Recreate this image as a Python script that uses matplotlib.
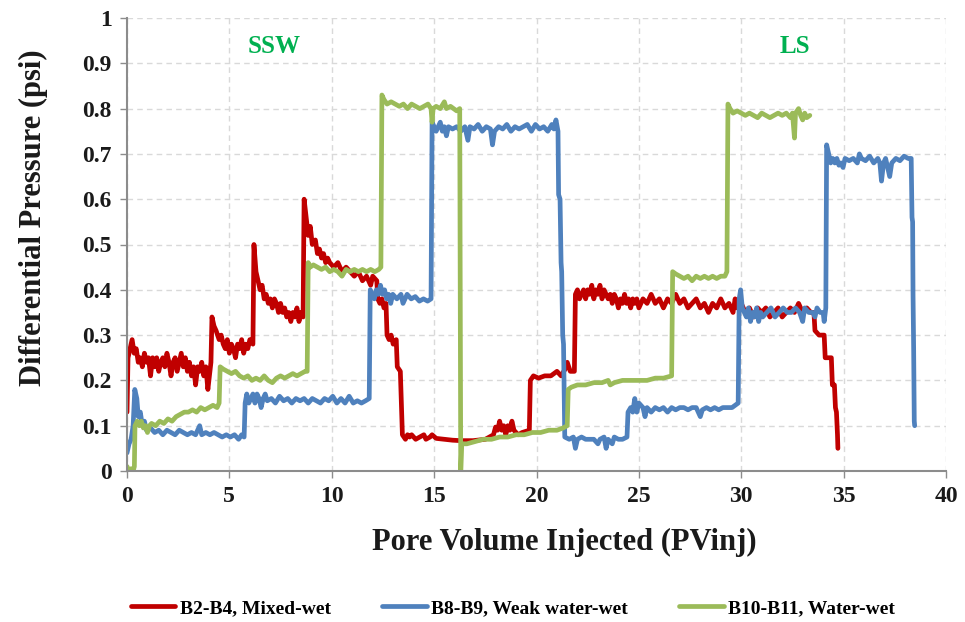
import matplotlib
matplotlib.use('Agg')
import matplotlib.pyplot as plt

plt.rcParams['font.family'] = ['Liberation Serif', 'DejaVu Serif']
plt.rcParams['font.weight'] = 'bold'

# B2-B4, Mixed-wet  (x = PV injected, y = dP in psi)
red_pts = [
    (0.0, 0.13), (0.05, 0.25), (0.15, 0.27), (0.25, 0.29), (0.35, 0.26), (0.45, 0.27), (0.55, 0.24),
    (0.65, 0.25), (0.75, 0.23), (0.85, 0.26), (0.95, 0.24), (1.05, 0.25), (1.15, 0.21), (1.25, 0.25),
    (1.35, 0.23), (1.45, 0.25), (1.55, 0.22), (1.65, 0.24), (1.75, 0.25), (1.85, 0.23), (1.95, 0.26),
    (2.05, 0.24), (2.15, 0.21), (2.25, 0.24), (2.35, 0.25), (2.45, 0.22), (2.55, 0.24), (2.65, 0.26),
    (2.75, 0.23), (2.85, 0.25), (2.95, 0.22), (3.05, 0.24), (3.15, 0.21), (3.25, 0.23), (3.35, 0.19),
    (3.45, 0.23), (3.55, 0.22), (3.65, 0.24), (3.75, 0.21), (3.85, 0.23), (3.95, 0.18), (4.05, 0.22),
    (4.1, 0.24), (4.15, 0.34), (4.25, 0.32), (4.35, 0.31), (4.5, 0.29), (4.6, 0.30), (4.7, 0.28),
    (4.8, 0.27), (4.9, 0.29), (5.0, 0.26), (5.1, 0.28), (5.2, 0.27), (5.3, 0.25), (5.4, 0.28),
    (5.5, 0.27), (5.6, 0.29), (5.7, 0.26), (5.8, 0.28), (5.9, 0.27), (6.0, 0.29), (6.15, 0.28),
    (6.2, 0.50), (6.3, 0.44), (6.4, 0.42), (6.5, 0.40), (6.6, 0.41), (6.7, 0.38), (6.8, 0.39),
    (6.9, 0.37), (7.0, 0.38), (7.1, 0.36), (7.2, 0.38), (7.3, 0.37), (7.4, 0.35), (7.5, 0.37),
    (7.6, 0.35), (7.7, 0.36), (7.8, 0.34), (7.9, 0.35), (8.0, 0.33), (8.1, 0.35), (8.2, 0.34),
    (8.3, 0.36), (8.4, 0.33), (8.5, 0.35), (8.6, 0.34), (8.65, 0.60), (8.75, 0.56), (8.85, 0.52),
    (8.95, 0.54), (9.05, 0.50), (9.2, 0.51), (9.3, 0.48), (9.4, 0.49), (9.5, 0.47), (9.6, 0.48),
    (9.7, 0.46), (9.8, 0.47), (9.9, 0.46), (10.1, 0.45), (10.3, 0.46), (10.5, 0.44), (10.7, 0.45),
    (10.9, 0.44), (11.1, 0.43), (11.3, 0.44), (11.5, 0.42), (11.7, 0.43), (11.9, 0.41), (12.0, 0.43),
    (12.2, 0.42), (12.25, 0.38), (12.35, 0.37), (12.45, 0.38), (12.55, 0.36), (12.65, 0.37),
    (12.7, 0.30), (12.8, 0.29), (12.9, 0.30), (13.0, 0.28), (13.15, 0.29), (13.2, 0.23),
    (13.35, 0.22), (13.45, 0.08), (13.6, 0.07), (13.7, 0.08), (13.8, 0.075), (13.9, 0.08),
    (14.1, 0.07), (14.3, 0.075), (14.5, 0.08), (14.6, 0.07), (14.8, 0.075), (14.9, 0.08),
    (15.1, 0.072), (15.5, 0.070), (15.9, 0.068), (16.3, 0.067), (16.9, 0.067), (17.5, 0.07),
    (17.9, 0.08), (18.0, 0.097), (18.1, 0.09), (18.2, 0.11), (18.3, 0.09), (18.4, 0.10),
    (18.5, 0.08), (18.6, 0.10), (18.7, 0.09), (18.8, 0.11), (18.9, 0.09), (19.1, 0.08),
    (19.3, 0.085), (19.65, 0.09), (19.7, 0.20), (19.85, 0.21), (20.1, 0.205), (20.4, 0.21),
    (20.7, 0.21), (21.0, 0.22), (21.2, 0.21), (21.4, 0.225), (21.5, 0.24), (21.65, 0.22),
    (21.85, 0.22), (21.9, 0.39), (22.0, 0.40), (22.1, 0.38), (22.2, 0.39), (22.3, 0.40),
    (22.4, 0.38), (22.5, 0.40), (22.6, 0.39), (22.7, 0.41), (22.8, 0.38), (22.9, 0.40),
    (23.0, 0.39), (23.1, 0.41), (23.2, 0.38), (23.3, 0.40), (23.4, 0.39), (23.5, 0.38),
    (23.6, 0.39), (23.7, 0.37), (23.8, 0.39), (23.9, 0.38), (24.0, 0.36), (24.1, 0.38),
    (24.2, 0.37), (24.3, 0.39), (24.4, 0.37), (24.5, 0.38), (24.6, 0.36), (24.7, 0.38),
    (24.8, 0.37), (24.9, 0.38), (25.0, 0.36), (25.2, 0.38), (25.4, 0.37), (25.6, 0.39),
    (25.8, 0.37), (26.0, 0.38), (26.2, 0.36), (26.4, 0.38), (26.6, 0.37), (26.8, 0.39),
    (27.0, 0.37), (27.2, 0.38), (27.4, 0.36), (27.6, 0.37), (27.8, 0.38), (28.0, 0.36),
    (28.2, 0.37), (28.4, 0.35), (28.6, 0.37), (28.8, 0.36), (29.0, 0.38), (29.2, 0.36),
    (29.4, 0.37), (29.6, 0.35), (29.7, 0.38), (29.8, 0.36), (30.0, 0.37), (30.2, 0.35),
    (30.4, 0.36), (30.6, 0.34), (30.8, 0.36), (31.0, 0.35), (31.2, 0.36), (31.4, 0.34),
    (31.6, 0.35), (31.8, 0.36), (32.0, 0.34), (32.2, 0.35), (32.4, 0.36), (32.6, 0.35),
    (32.8, 0.37), (33.0, 0.35), (33.2, 0.36), (33.4, 0.35), (33.55, 0.35), (33.6, 0.31),
    (33.8, 0.30), (34.05, 0.30), (34.1, 0.25), (34.3, 0.25), (34.4, 0.25), (34.45, 0.19),
    (34.55, 0.19), (34.6, 0.14), (34.65, 0.13), (34.7, 0.08), (34.72, 0.05),
]

# B8-B9, Weak water-wet
blue_pts = [
    (0.0, 0.04), (0.1, 0.06), (0.2, 0.07), (0.3, 0.10), (0.38, 0.18), (0.48, 0.16), (0.55, 0.12),
    (0.65, 0.13), (0.75, 0.10), (0.85, 0.11), (0.95, 0.09), (1.15, 0.095), (1.35, 0.085),
    (1.55, 0.09), (1.75, 0.08), (1.95, 0.09), (2.15, 0.085), (2.35, 0.08), (2.55, 0.09),
    (2.75, 0.085), (2.95, 0.08), (3.15, 0.085), (3.35, 0.08), (3.55, 0.10), (3.65, 0.08),
    (3.85, 0.085), (4.05, 0.08), (4.25, 0.085), (4.45, 0.08), (4.65, 0.075), (4.85, 0.08),
    (5.05, 0.075), (5.25, 0.08), (5.45, 0.07), (5.6, 0.08), (5.72, 0.075), (5.77, 0.15),
    (5.85, 0.17), (5.95, 0.15), (6.05, 0.16), (6.15, 0.17), (6.25, 0.15), (6.35, 0.17),
    (6.45, 0.16), (6.55, 0.14), (6.65, 0.16), (6.75, 0.17), (6.85, 0.155), (7.05, 0.16),
    (7.25, 0.15), (7.45, 0.165), (7.65, 0.155), (7.85, 0.16), (8.05, 0.15), (8.25, 0.16),
    (8.45, 0.155), (8.65, 0.16), (8.85, 0.15), (9.05, 0.16), (9.25, 0.155), (9.45, 0.15),
    (9.65, 0.16), (9.85, 0.155), (10.05, 0.165), (10.25, 0.15), (10.45, 0.16), (10.65, 0.15),
    (10.85, 0.165), (11.05, 0.15), (11.25, 0.155), (11.45, 0.15), (11.65, 0.155), (11.83, 0.16),
    (11.88, 0.40), (11.98, 0.39), (12.08, 0.38), (12.18, 0.40), (12.28, 0.39), (12.38, 0.41),
    (12.48, 0.39), (12.58, 0.40), (12.68, 0.38), (12.78, 0.39), (12.88, 0.37), (12.98, 0.39),
    (13.18, 0.38), (13.38, 0.39), (13.48, 0.37), (13.68, 0.39), (13.88, 0.38), (14.08, 0.385),
    (14.28, 0.375), (14.48, 0.38), (14.68, 0.375), (14.85, 0.38), (14.9, 0.77), (15.0, 0.76),
    (15.1, 0.75), (15.2, 0.76), (15.3, 0.77), (15.4, 0.75), (15.5, 0.76), (15.6, 0.74),
    (15.7, 0.76), (15.9, 0.755), (16.1, 0.76), (16.3, 0.75), (16.5, 0.76), (16.65, 0.73),
    (16.75, 0.76), (16.95, 0.755), (17.15, 0.765), (17.35, 0.75), (17.55, 0.76), (17.75, 0.755),
    (17.85, 0.72), (17.95, 0.75), (18.15, 0.76), (18.35, 0.755), (18.55, 0.765), (18.75, 0.75),
    (18.95, 0.76), (19.15, 0.755), (19.35, 0.76), (19.55, 0.765), (19.75, 0.75), (19.95, 0.765),
    (20.15, 0.755), (20.35, 0.76), (20.55, 0.75), (20.75, 0.765), (20.85, 0.755), (20.95, 0.775),
    (21.05, 0.75), (21.08, 0.61), (21.15, 0.60), (21.2, 0.46), (21.23, 0.44), (21.28, 0.30),
    (21.32, 0.28), (21.38, 0.075), (21.6, 0.07), (21.8, 0.075), (21.9, 0.05), (22.0, 0.07),
    (22.2, 0.075), (22.4, 0.07), (22.6, 0.07), (22.8, 0.07), (23.0, 0.06), (23.1, 0.07),
    (23.3, 0.075), (23.4, 0.05), (23.5, 0.07), (23.7, 0.06), (23.8, 0.075), (24.0, 0.07),
    (24.2, 0.07), (24.42, 0.075), (24.47, 0.13), (24.6, 0.14), (24.7, 0.13), (24.8, 0.16),
    (24.9, 0.13), (25.0, 0.15), (25.2, 0.14), (25.3, 0.12), (25.4, 0.14), (25.6, 0.13),
    (25.8, 0.14), (26.0, 0.135), (26.2, 0.14), (26.4, 0.13), (26.6, 0.14), (26.8, 0.135),
    (27.0, 0.14), (27.2, 0.14), (27.4, 0.135), (27.6, 0.14), (27.8, 0.14), (28.0, 0.12),
    (28.1, 0.135), (28.3, 0.14), (28.5, 0.135), (28.7, 0.14), (28.9, 0.135), (29.1, 0.14),
    (29.3, 0.14), (29.55, 0.14), (29.85, 0.15), (29.9, 0.38), (29.97, 0.40), (30.05, 0.36),
    (30.15, 0.35), (30.25, 0.34), (30.35, 0.36), (30.45, 0.33), (30.55, 0.35), (30.65, 0.34),
    (30.75, 0.36), (30.85, 0.33), (30.95, 0.35), (31.05, 0.34), (31.25, 0.35), (31.45, 0.36),
    (31.65, 0.34), (31.85, 0.35), (32.05, 0.36), (32.25, 0.35), (32.45, 0.35), (32.65, 0.36),
    (32.85, 0.35), (33.0, 0.33), (33.1, 0.36), (33.3, 0.35), (33.5, 0.35), (33.6, 0.34),
    (33.7, 0.36), (33.85, 0.35), (34.0, 0.35), (34.05, 0.33), (34.1, 0.35), (34.13, 0.36),
    (34.17, 0.72), (34.27, 0.70), (34.37, 0.68), (34.47, 0.69), (34.57, 0.68), (34.67, 0.69),
    (34.77, 0.675), (34.87, 0.68), (34.97, 0.67), (35.07, 0.69), (35.27, 0.685), (35.47, 0.69),
    (35.67, 0.68), (35.77, 0.70), (35.87, 0.69), (36.07, 0.685), (36.27, 0.695), (36.47, 0.68),
    (36.67, 0.69), (36.77, 0.68), (36.85, 0.64), (36.95, 0.68), (37.05, 0.69), (37.25, 0.65),
    (37.35, 0.68), (37.55, 0.69), (37.75, 0.685), (37.95, 0.695), (38.15, 0.69), (38.3, 0.69),
    (38.34, 0.56), (38.37, 0.55), (38.39, 0.39), (38.42, 0.27), (38.45, 0.11), (38.47, 0.10),
]

# B10-B11, Water-wet
green_pts = [
    (0.0, 0.01), (0.1, 0.0), (0.2, 0.005), (0.3, 0.0), (0.36, 0.01), (0.39, 0.10), (0.5, 0.11),
    (0.6, 0.10), (0.7, 0.11), (0.8, 0.095), (0.9, 0.10), (1.0, 0.085), (1.1, 0.10), (1.2, 0.105),
    (1.4, 0.10), (1.6, 0.11), (1.8, 0.105), (2.0, 0.115), (2.2, 0.11), (2.4, 0.12), (2.6, 0.125),
    (2.8, 0.13), (3.0, 0.13), (3.2, 0.135), (3.4, 0.13), (3.6, 0.14), (3.8, 0.135), (4.0, 0.14),
    (4.2, 0.145), (4.4, 0.14), (4.5, 0.15), (4.55, 0.23), (4.7, 0.225), (4.9, 0.22), (5.1, 0.215),
    (5.3, 0.22), (5.5, 0.21), (5.7, 0.205), (5.9, 0.21), (6.1, 0.20), (6.3, 0.205), (6.5, 0.20),
    (6.7, 0.21), (6.9, 0.20), (7.1, 0.195), (7.3, 0.205), (7.5, 0.21), (7.7, 0.205), (7.9, 0.21),
    (8.1, 0.215), (8.3, 0.21), (8.5, 0.215), (8.7, 0.22), (8.8, 0.22), (8.85, 0.46), (8.95, 0.45),
    (9.1, 0.455), (9.3, 0.45), (9.5, 0.445), (9.7, 0.45), (9.9, 0.44), (10.1, 0.445), (10.3, 0.44),
    (10.5, 0.43), (10.7, 0.445), (10.9, 0.44), (11.1, 0.445), (11.3, 0.44), (11.5, 0.445),
    (11.7, 0.44), (11.9, 0.445), (12.1, 0.44), (12.3, 0.445), (12.4, 0.45), (12.45, 0.83),
    (12.55, 0.82), (12.7, 0.81), (12.9, 0.815), (13.1, 0.81), (13.3, 0.805), (13.5, 0.81),
    (13.7, 0.80), (13.9, 0.81), (14.1, 0.805), (14.3, 0.80), (14.5, 0.805), (14.7, 0.81),
    (14.85, 0.80), (14.9, 0.77), (14.95, 0.80), (15.1, 0.805), (15.3, 0.80), (15.5, 0.815),
    (15.6, 0.80), (15.8, 0.805), (15.95, 0.80), (16.1, 0.795), (16.25, 0.80), (16.3, 0.0),
    (16.35, 0.06), (16.6, 0.06), (17.0, 0.065), (17.4, 0.07), (17.8, 0.07), (18.2, 0.075),
    (18.6, 0.075), (19.0, 0.08), (19.4, 0.08), (19.8, 0.085), (20.2, 0.085), (20.6, 0.09),
    (21.0, 0.09), (21.3, 0.095), (21.5, 0.10), (21.55, 0.18), (21.7, 0.185), (22.0, 0.19),
    (22.4, 0.19), (22.8, 0.195), (23.2, 0.195), (23.5, 0.20), (23.6, 0.19), (23.8, 0.195),
    (24.2, 0.20), (24.6, 0.20), (25.0, 0.20), (25.4, 0.20), (25.8, 0.205), (26.2, 0.205),
    (26.6, 0.21), (26.65, 0.44), (26.8, 0.435), (27.0, 0.43), (27.2, 0.425), (27.4, 0.43),
    (27.6, 0.42), (27.8, 0.43), (28.0, 0.425), (28.2, 0.43), (28.4, 0.425), (28.6, 0.43),
    (28.8, 0.425), (29.0, 0.43), (29.2, 0.43), (29.3, 0.44), (29.35, 0.81), (29.45, 0.80),
    (29.6, 0.79), (29.8, 0.795), (30.0, 0.79), (30.2, 0.785), (30.4, 0.79), (30.6, 0.785),
    (30.8, 0.78), (31.0, 0.79), (31.2, 0.785), (31.4, 0.78), (31.6, 0.785), (31.8, 0.79),
    (32.0, 0.785), (32.2, 0.79), (32.4, 0.78), (32.5, 0.79), (32.6, 0.735), (32.65, 0.79),
    (32.8, 0.80), (32.9, 0.785), (33.0, 0.775), (33.1, 0.79), (33.2, 0.78), (33.35, 0.785),
]

series_labels = ['B2-B4, Mixed-wet', 'B8-B9, Weak water-wet', 'B10-B11, Water-wet']
series_colors = ['#C00000', '#4F81BD', '#9BBB59']
x_ticks = [0, 5, 10, 15, 20, 25, 30, 35, 40]
y_ticks = [0, 0.1, 0.2, 0.3, 0.4, 0.5, 0.6, 0.7, 0.8, 0.9, 1]
y_tick_labels = ['0', '0.1', '0.2', '0.3', '0.4', '0.5', '0.6', '0.7', '0.8', '0.9', '1']

fig = plt.figure(figsize=(9.65, 6.22), dpi=100)
ax = fig.add_axes([127 / 965, 1 - 471 / 622, 819 / 965, 453 / 622])

for pts, lab, col in zip([red_pts, blue_pts, green_pts], series_labels, series_colors):
    xs = [p[0] for p in pts]
    ys = [p[1] for p in pts]
    ax.plot(xs, ys, color=col, lw=3.4, label=lab, solid_joinstyle='round', solid_capstyle='round')

ax.set_xlim(0, 40)
ax.set_ylim(0, 1)
ax.set_xticks(x_ticks)
ax.set_yticks(y_ticks)
ax.set_yticklabels(y_tick_labels)
ax.grid(color='#D9D9D9', linestyle=(0, (4, 3)), linewidth=1)
ax.set_axisbelow(True)
for s in ['top', 'right']:
    ax.spines[s].set_visible(False)
for s in ['left', 'bottom']:
    ax.spines[s].set_color('#8C8C8C')
    ax.spines[s].set_linewidth(1.5)
ax.tick_params(direction='out', length=5, width=1, color='#8C8C8C', labelsize=17, pad=6)
for t in ax.get_xticklabels() + ax.get_yticklabels():
    t.set_fontweight('bold')
    t.set_color('#1a1a1a')

ax.set_xlabel('Pore Volume Injected (PVinj)', fontsize=22, fontweight='bold', color='#1a1a1a')
ax.set_ylabel('Differential Pressure (psi)', fontsize=22, fontweight='bold', color='#1a1a1a')
ax.xaxis.set_label_coords(0.534, -0.125)
ax.yaxis.set_label_coords(-0.097, 0.56)

ax.text(7.2, 0.936, 'SSW', color='#00B050', fontsize=18, fontweight='bold', ha='center', va='center')
ax.text(32.6, 0.936, 'LS', color='#00B050', fontsize=18, fontweight='bold', ha='center', va='center')

fig.legend(loc='center', bbox_to_anchor=(513 / 965, 1 - 608 / 622), ncol=3, frameon=False,
           prop={'size': 14, 'weight': 'bold'}, handlelength=2.3, handletextpad=0.25,
           columnspacing=2.6)

fig.savefig('out.png', dpi=100)
